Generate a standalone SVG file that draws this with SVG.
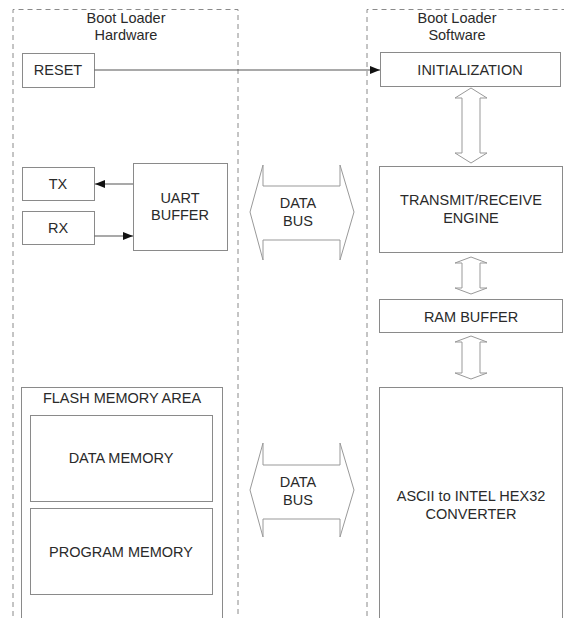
<svg xmlns="http://www.w3.org/2000/svg" width="564" height="618" viewBox="0 0 564 618">
<defs>
<style>
text{font-family:"Liberation Sans",Arial,sans-serif;font-size:14.5px;fill:#2a2a2a;text-anchor:middle}
.box{fill:#fff;stroke:#8a8a8a;stroke-width:1}
.region{fill:none;stroke:#8a8a8a;stroke-width:1;stroke-dasharray:5,4}
.line{fill:none;stroke:#555;stroke-width:1.2}
.hollow{fill:#fff;stroke:#999;stroke-width:1}
</style>
<marker id="ah" viewBox="0 0 10 10" refX="10" refY="5" markerWidth="10" markerHeight="10" markerUnits="userSpaceOnUse" orient="auto">
<path d="M0,1 L10,5 L0,9 Z" fill="#111"/>
</marker>
</defs>
<rect width="564" height="618" fill="#fff"/>
<g id="hardware-region">
<path class="region" d="M13,625 L13,9.5 L238,9.5 L238,625"/>
<text x="126" y="23">Boot Loader</text>
<text x="126" y="40">Hardware</text>
</g>
<g id="software-region">
<path class="region" d="M367,625 L367,9.5 L570,9.5"/>
<text x="457" y="23">Boot Loader</text>
<text x="457" y="40">Software</text>
</g>
<g id="reset">
<rect class="box" x="22.5" y="53.5" width="72" height="34"/>
<text x="58" y="75">RESET</text>
</g>
<g id="init">
<rect class="box" x="380.5" y="52.5" width="180" height="34"/>
<text x="470" y="75">INITIALIZATION</text>
</g>
<g id="tx">
<rect class="box" x="22.5" y="167.5" width="72" height="33"/>
<text x="58" y="189">TX</text>
</g>
<g id="rx">
<rect class="box" x="22.5" y="211.5" width="72" height="33"/>
<text x="58" y="233">RX</text>
</g>
<g id="uart">
<rect class="box" x="133.5" y="163.5" width="94" height="87"/>
<text x="180" y="203">UART</text>
<text x="180" y="220">BUFFER</text>
</g>
<g id="trx">
<rect class="box" x="379.5" y="166.5" width="183" height="86"/>
<text x="471" y="205">TRANSMIT/RECEIVE</text>
<text x="471" y="223">ENGINE</text>
</g>
<g id="ram">
<rect class="box" x="379.5" y="299.5" width="183" height="33"/>
<text x="471" y="322">RAM BUFFER</text>
</g>
<g id="converter">
<rect class="box" x="379.5" y="387.5" width="183" height="240"/>
<text x="471" y="501">ASCII to INTEL HEX32</text>
<text x="471" y="519">CONVERTER</text>
</g>
<g id="flash">
<rect class="box" x="21.5" y="387.5" width="201" height="240"/>
<text x="122" y="403">FLASH MEMORY AREA</text>
</g>
<g id="data-memory">
<rect class="box" x="30.5" y="415.5" width="182" height="86"/>
<text x="121" y="463">DATA MEMORY</text>
</g>
<g id="program-memory">
<rect class="box" x="30.5" y="508.5" width="182" height="86"/>
<text x="121" y="557">PROGRAM MEMORY</text>
</g>
<g id="connectors">
<line class="line" x1="94.5" y1="70" x2="380" y2="70" marker-end="url(#ah)"/>
<line class="line" x1="133" y1="184" x2="95" y2="184" marker-end="url(#ah)"/>
<line class="line" x1="94.5" y1="236" x2="133" y2="236" marker-end="url(#ah)"/>
<path class="hollow" d="M471,88 L487,98 L480,98 L480,153 L487,153 L471,163 L455,153 L462,153 L462,98 L455,98 Z"/>
<path class="hollow" d="M471,257 L487,263 L480,263 L480,288 L487,288 L471,294 L455,288 L462,288 L462,263 L455,263 Z"/>
<path class="hollow" d="M471,336 L487,342 L480,342 L480,373 L487,373 L471,379 L455,373 L462,373 L462,342 L455,342 Z"/>
<g id="databus1">
<path class="hollow" d="M250,212 L263,165 L263,186 L340,186 L340,165 L354,212 L340,260 L340,240 L263,240 L263,260 Z"/>
<text x="298" y="208">DATA</text>
<text x="298" y="226">BUS</text>
</g>
<g id="databus2">
<path class="hollow" d="M250,490 L263,443 L263,465 L340,465 L340,443 L354,490 L340,537 L340,519 L263,519 L263,537 Z"/>
<text x="298" y="487">DATA</text>
<text x="298" y="505">BUS</text>
</g>
</g>
</svg>
